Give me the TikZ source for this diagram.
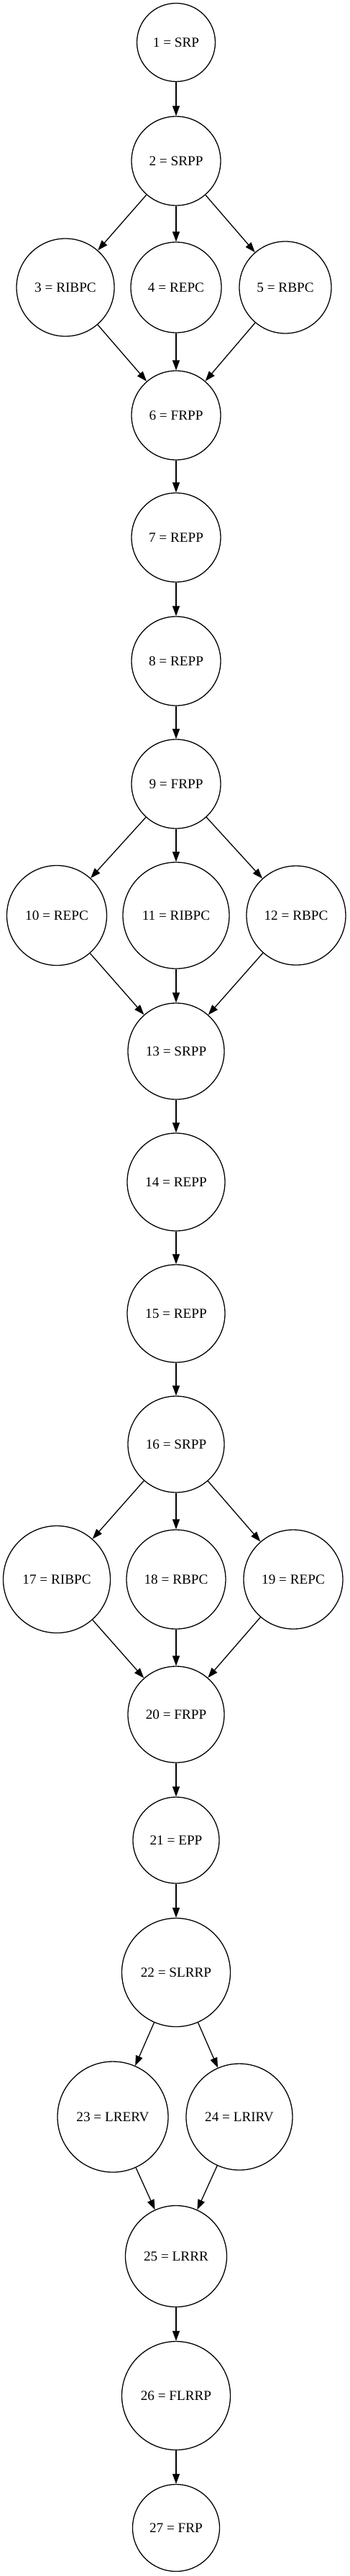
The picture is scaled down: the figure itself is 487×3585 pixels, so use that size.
\documentclass[tikz,border=0pt]{standalone}
\usepackage{fontspec}
\setmainfont{Liberation Serif}
\usepackage{tikz}
\usetikzlibrary{arrows.meta}

\begin{document}
\begin{tikzpicture}[
    x=1pt, y=-1pt,
    stage/.style={circle, draw, line width=1.3pt, inner sep=0pt, minimum size=#1, font=\fontsize{19.2}{23}\selectfont},
    arrow/.style={-{Triangle[length=14pt, width=10pt]}, line width=1.3pt}
]
    \useasboundingbox (0,0) rectangle (487,3585);

    % Start
    \node[stage=109pt] (n1) at (245,59) {1 = SRP};
    \node[stage=124pt] (n2) at (245,224) {2 = SRPP};
    \draw[arrow] (n1) -- (n2);

    % First branch
    \node[stage=136pt] (n3) at (91,400) {3 = RIBPC};
    \node[stage=126pt] (n4) at (245,400) {4 = REPC};
    \node[stage=128pt] (n5) at (397,400) {5 = RBPC};
    \node[stage=124pt] (n6) at (245,578) {6 = FRPP};
    \draw[arrow] (n2) -- (n3);
    \draw[arrow] (n2) -- (n4);
    \draw[arrow] (n2) -- (n5);
    \draw[arrow] (n3) -- (n6);
    \draw[arrow] (n4) -- (n6);
    \draw[arrow] (n5) -- (n6);

    \node[stage=124pt] (n7) at (245,748) {7 = REPP};
    \node[stage=124pt] (n8) at (245,920) {8 = REPP};
    \node[stage=124pt] (n9) at (245,1091) {9 = FRPP};
    \draw[arrow] (n6) -- (n7);
    \draw[arrow] (n7) -- (n8);
    \draw[arrow] (n8) -- (n9);

    % Second branch
    \node[stage=139pt] (n10) at (79,1274) {10 = REPC};
    \node[stage=148pt] (n11) at (245,1274) {11 = RIBPC};
    \node[stage=138pt] (n12) at (412,1274) {12 = RBPC};
    \node[stage=134pt] (n13) at (245,1463) {13 = SRPP};
    \draw[arrow] (n9) -- (n10);
    \draw[arrow] (n9) -- (n11);
    \draw[arrow] (n9) -- (n12);
    \draw[arrow] (n10) -- (n13);
    \draw[arrow] (n11) -- (n13);
    \draw[arrow] (n12) -- (n13);

    \node[stage=136pt] (n14) at (245,1645) {14 = REPP};
    \node[stage=136pt] (n15) at (245,1828) {15 = REPP};
    \node[stage=134pt] (n16) at (245,2010) {16 = SRPP};
    \draw[arrow] (n13) -- (n14);
    \draw[arrow] (n14) -- (n15);
    \draw[arrow] (n15) -- (n16);

    % Third branch
    \node[stage=149pt] (n17) at (79,2198) {17 = RIBPC};
    \node[stage=138pt] (n18) at (245,2198) {18 = RBPC};
    \node[stage=138pt] (n19) at (408,2198) {19 = REPC};
    \node[stage=134pt] (n20) at (245,2386) {20 = FRPP};
    \draw[arrow] (n16) -- (n17);
    \draw[arrow] (n16) -- (n18);
    \draw[arrow] (n16) -- (n19);
    \draw[arrow] (n17) -- (n20);
    \draw[arrow] (n18) -- (n20);
    \draw[arrow] (n19) -- (n20);

    \node[stage=120pt] (n21) at (245,2561) {21 = EPP};
    \node[stage=151pt] (n22) at (245,2745) {22 = SLRRP};
    \draw[arrow] (n20) -- (n21);
    \draw[arrow] (n21) -- (n22);

    % Loop branch
    \node[stage=154pt] (n23) at (157,2946) {23 = LRERV};
    \node[stage=148pt] (n24) at (333,2946) {24 = LRIRV};
    \node[stage=141pt] (n25) at (245,3140) {25 = LRRR};
    \draw[arrow] (n22) -- (n23);
    \draw[arrow] (n22) -- (n24);
    \draw[arrow] (n23) -- (n25);
    \draw[arrow] (n24) -- (n25);

    % End
    \node[stage=151pt] (n26) at (245,3334) {26 = FLRRP};
    \node[stage=121pt] (n27) at (245,3518) {27 = FRP};
    \draw[arrow] (n25) -- (n26);
    \draw[arrow] (n26) -- (n27);
\end{tikzpicture}
\end{document}
